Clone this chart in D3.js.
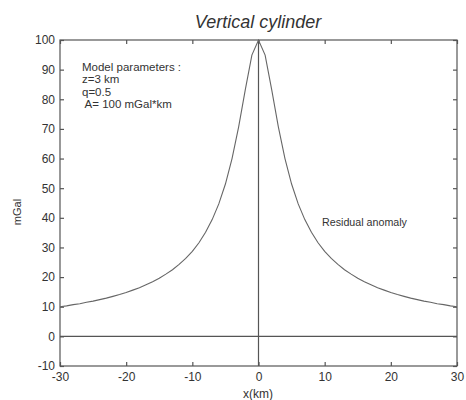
<!DOCTYPE html>
<html>
<head>
<meta charset="utf-8">
<title>Vertical cylinder</title>
<script src="https://d3js.org/d3.v7.min.js"></script>
<style>
  body { margin: 0; background: #fff; }
  svg text { font-family: "Liberation Sans", Arial, sans-serif; fill: #333; }
</style>
</head>
<body>
<svg width="466" height="400"></svg>
<script>
const xKm = [-30,-29,-28,-27,-26,-25,-24,-23,-22,-21,-20,-19,-18,-17,-16,-15,-14,-13,-12,-11,
             -10,-9,-8,-7,-6,-5,-4,-3,-2,-1,0,1,2,3,4,5,6,7,8,9,10,
             11,12,13,14,15,16,17,18,19,20,21,22,23,24,25,26,27,28,29,30];
const gravity = [10.0,10.3,10.7,11.0,11.5,11.9,12.4,12.9,13.5,14.1,14.8,15.6,16.4,17.4,18.4,19.6,21.0,22.5,24.3,26.3,
                 28.7,31.6,35.1,39.4,44.7,51.4,60.0,70.7,83.2,94.9,100,94.9,83.2,70.7,60.0,51.4,44.7,39.4,35.1,31.6,28.7,
                 26.3,24.3,22.5,21.0,19.6,18.4,17.4,16.4,15.6,14.8,14.1,13.5,12.9,12.4,11.9,11.5,11.0,10.7,10.3,10.0];
const xTicks = [-30,-20,-10,0,10,20,30];
const yTicks = [-10,0,10,20,30,40,50,60,70,80,90,100];
const paramLines = ["Model parameters :", "z=3 km", "q=0.5", " A= 100 mGal*km"];

const padL = 60, padR = 457, padT = 40, padB = 366;
const svg = d3.select("svg");

const x = d3.scaleLinear().domain([-30, 30]).range([padL, padR]);
const y = d3.scaleLinear().domain([-10, 100]).range([padB, padT]);

const axisCol = "#555";
const plain = d => String(d);   // hyphen minus, like the original

// box
svg.append("rect")
  .attr("x", padL).attr("y", padT)
  .attr("width", padR - padL).attr("height", padB - padT)
  .attr("fill", "none").attr("stroke", axisCol).attr("stroke-width", 1.2);

function styleAxis(g) {
  g.select(".domain").remove();
  g.selectAll("line").attr("stroke", axisCol).attr("stroke-width", 1.2);
  g.selectAll("text").attr("font-size", 12).attr("fill", "#3a3a3a")
    .attr("font-family", '"Liberation Sans", Arial, sans-serif');
}

svg.append("g").attr("transform", `translate(0,${padB})`)
  .call(d3.axisBottom(x).tickValues(xTicks).tickSizeInner(-4).tickSizeOuter(0).tickPadding(6).tickFormat(plain))
  .call(styleAxis);
svg.append("g").attr("transform", `translate(0,${padT})`)
  .call(d3.axisTop(x).tickValues(xTicks).tickSizeInner(-4).tickSizeOuter(0).tickFormat(""))
  .call(styleAxis);
svg.append("g").attr("transform", `translate(${padL},0)`)
  .call(d3.axisLeft(y).tickValues(yTicks).tickSizeInner(-4).tickSizeOuter(0).tickPadding(5).tickFormat(plain))
  .call(styleAxis);
svg.append("g").attr("transform", `translate(${padR},0)`)
  .call(d3.axisRight(y).tickValues(yTicks).tickSizeInner(-4).tickSizeOuter(0).tickFormat(""))
  .call(styleAxis);

// zero lines
svg.append("line")
  .attr("x1", x(-30)).attr("x2", x(30)).attr("y1", y(0)).attr("y2", y(0))
  .attr("stroke", axisCol).attr("stroke-width", 1.2);
svg.append("line")
  .attr("x1", x(0)).attr("x2", x(0)).attr("y1", y(-10)).attr("y2", y(100))
  .attr("stroke", axisCol).attr("stroke-width", 1.2);

// curve
const pts = xKm.map((v, i) => [v, gravity[i]]);
svg.append("path")
  .datum(pts)
  .attr("fill", "none").attr("stroke", "#666").attr("stroke-width", 1.1)
  .attr("d", d3.line().x(d => x(d[0])).y(d => y(d[1])));

// title and labels
svg.append("text").attr("x", 258).attr("y", 28)
  .attr("text-anchor", "middle").attr("font-size", 18).attr("font-style", "italic")
  .attr("fill", "#222").text("Vertical cylinder");
svg.append("text").attr("x", 258).attr("y", 398)
  .attr("text-anchor", "middle").attr("font-size", 12).text("x(km)");
svg.append("text")
  .attr("transform", "translate(21,212) rotate(-90)")
  .attr("text-anchor", "middle").attr("font-size", 11).text("mGal");

svg.append("g").selectAll("text").data(paramLines).enter().append("text")
  .attr("x", 82).attr("y", (d, i) => 71 + i * 12.3)
  .attr("font-size", 11.5)
  .style("white-space", "pre")
  .text(d => d);

svg.append("text").attr("x", 322).attr("y", 226)
  .attr("font-size", 10.7).text("Residual anomaly");
</script>
</body>
</html>
